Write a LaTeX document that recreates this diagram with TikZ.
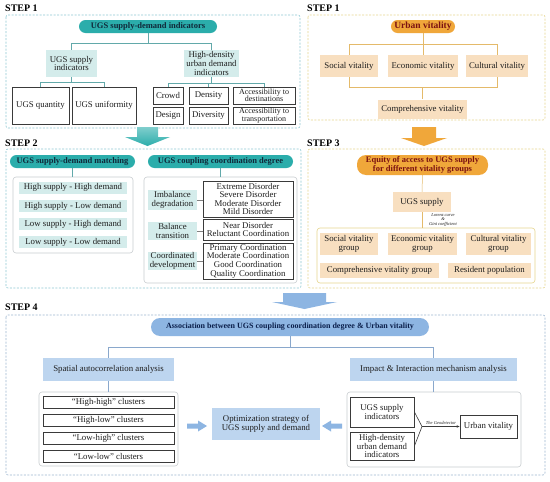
\documentclass[tikz,border=0pt]{standalone}
\usepackage{fontspec}
\setmainfont{Liberation Serif}
\usetikzlibrary{calc,arrows.meta}
\definecolor{tealP}{HTML}{2BADAB}
\definecolor{tealT}{HTML}{10293A}
\definecolor{tealL}{HTML}{D4ECEB}
\definecolor{tealF}{HTML}{8EC9D4}
\definecolor{tealN}{HTML}{62A9AA}
\definecolor{orP}{HTML}{F0A73A}
\definecolor{orT}{HTML}{7B1111}
\definecolor{peach}{HTML}{F8DFC0}
\definecolor{orF}{HTML}{E6D58E}
\definecolor{orN}{HTML}{E4BA6A}
\definecolor{blP}{HTML}{8DB5E2}
\definecolor{blT}{HTML}{0B1F4B}
\definecolor{blL}{HTML}{BDD5EF}
\definecolor{blF}{HTML}{9DB6D0}
\definecolor{blN}{HTML}{8AA8CC}
\definecolor{dk}{HTML}{3A3A3A}
\definecolor{txt}{HTML}{1E1E1E}
\definecolor{grpG}{HTML}{C9CDD0}
\begin{document}
\begin{tikzpicture}[x=1pt,y=-1pt,
  base/.style={inner sep=0pt, align=center, text=txt, font=\fontsize{8.8}{8.6}\selectfont},
  sz/.style 2 args={minimum width=#1, minimum height=#2},
  steplbl/.style={inner sep=0pt, anchor=west, font=\bfseries\fontsize{10}{12}\selectfont, text=black},
  tpill/.style={base, fill=tealP, rounded corners=6.5pt, text=tealT, font=\bfseries\fontsize{8.5}{8.5}\selectfont},
  tbox/.style={base, fill=tealL},
  opill/.style={base, fill=orP, rounded corners=7pt, text=orT, font=\bfseries\fontsize{8.5}{8.5}\selectfont},
  pbox/.style={base, fill=peach},
  bpill/.style={base, fill=blP, rounded corners=9pt, text=blT, font=\bfseries\fontsize{8}{8}\selectfont},
  bbox/.style={base, fill=blL},
  wbox/.style={base, fill=white, draw=dk, line width=0.8pt},
  grp/.style={draw=grpG, line width=0.6pt, rounded corners=3pt, fill=white},
  tframe/.style={draw=tealF, dash pattern=on 2pt off 1.5pt, line width=0.6pt, rounded corners=2pt},
  oframe/.style={draw=orF, dash pattern=on 2pt off 1.5pt, line width=0.6pt, rounded corners=2pt},
  bframe/.style={draw=blF, dash pattern=on 2pt off 1.5pt, line width=0.6pt, rounded corners=2pt},
  tline/.style={draw=tealN, line width=0.5pt},
  oline/.style={draw=orN, line width=0.5pt},
  bline/.style={draw=blN, line width=0.5pt},
  tiny/.style={inner sep=0pt, align=center, font=\itshape\fontsize{4.5}{4.5}\selectfont, text=txt}
]
\useasboundingbox (0,0) rectangle (550,482);
\fill[white] (0,0) rectangle (550,482);

% ---------------- STEP 1 left
\node[steplbl] (s1a) at (5,8) {STEP 1};
\draw[tframe] (6,15) rectangle (300,128);
\node[tpill, sz={138}{13}] (ind) at (148,26.5) {UGS supply-demand indicators};
\node[tbox, sz={51}{27}] (sup) at (71.5,63.5) {UGS supply\\indicators};
\node[tbox, sz={55}{27}] (dem) at (211.5,63.5) {High-density\\urban demand\\indicators};
\node[wbox, sz={57}{37}] (qty) at (40.5,105.5) {UGS quantity};
\node[wbox, sz={64}{37}] (uni) at (104,105.5) {UGS uniformity};
\node[wbox, sz={30}{17}] (crowd) at (168,95.5) {Crowd};
\node[wbox, sz={39}{17}] (dens) at (208.5,95.5) {Density};
\node[wbox, sz={62}{17}, font=\fontsize{8}{7.5}\selectfont] (acd) at (264,95.5) {Accessibility to\\destinations};
\node[wbox, sz={30}{17}] (design) at (168,115.5) {Design};
\node[wbox, sz={39}{17}] (divers) at (208.5,115.5) {Diversity};
\node[wbox, sz={62}{17}, font=\fontsize{8}{7.5}\selectfont] (act) at (264,115.5) {Accessibility to\\transportation};
\coordinate (j1) at (0,43);
\coordinate (j2) at (0,82);
\coordinate (j3) at (0,83);
\draw[tline] (ind.south) -- (ind.south |- j1);
\draw[tline] (sup.north) -- (sup.north |- j1) -- (dem.north |- j1) -- (dem.north);
\draw[tline] (sup.south) -- (sup.south |- j2);
\draw[tline] (qty.north) -- (qty.north |- j2) -- (uni.north |- j2) -- (uni.north);
\draw[tline] (dem.south) -- (dem.south |- j3);
\draw[tline] (crowd.north) -- (crowd.north |- j3) -- (acd.north |- j3) -- (acd.north);
\draw[tline] (dens.north) -- (dens.north |- j3);

% ---------------- STEP 1 right
\node[steplbl] (s1b) at (307,8) {STEP 1};
\draw[oframe] (308,15) rectangle (545,120);
\node[opill, sz={64}{13}, rounded corners=6.5pt, font=\bfseries\fontsize{9.5}{9.5}\selectfont] (uv) at (423,26.5) {Urban vitality};
\node[pbox, sz={58}{22}] (soc) at (349,66) {Social vitality};
\node[pbox, sz={70}{22}] (eco) at (423,66) {Economic vitality};
\node[pbox, sz={62}{22}] (cul) at (497,66) {Cultural vitality};
\node[pbox, sz={89}{19}] (comp) at (422.5,109) {Comprehensive vitality};
\coordinate (k1) at (0,44);
\coordinate (k2) at (0,87);
\draw[oline] (uv.south) -- (eco.north);
\draw[oline] (soc.north) -- (soc.north |- k1) -- (cul.north |- k1) -- (cul.north);
\draw[oline] (soc.south) -- (soc.south |- k2) -- (cul.south |- k2) -- (cul.south);
\draw[oline] (comp.north |- k2) -- (comp.north);

% ---------------- big arrows
\shade[top color=tealP!60, bottom color=tealP] (137,127) -- (158,127) -- (158,137) -- (170,137) -- (147.5,146) -- (125,137) -- (137,137) -- cycle;
\fill[orP] (412,127) -- (436,127) -- (436,138) -- (447,138) -- (424,146) -- (401,138) -- (412,138) -- cycle;
\fill[blP] (283,293) -- (326,293) -- (326,302) -- (337,302) -- (304.5,309) -- (272,302) -- (283,302) -- cycle;

% ---------------- STEP 2
\node[steplbl] (s2) at (5,143) {STEP 2};
\draw[tframe] (6,149) rectangle (301,288);
\node[tpill, sz={125}{13}] (match) at (72.5,161.5) {UGS supply-demand matching};
\node[tpill, sz={145}{13}] (ccd) at (220.5,161.5) {UGS coupling coordination degree};
\node[grp, sz={120}{76}] (mgrp) at (73,215) {};
\node[tbox, sz={108}{12}] (m1) at (73,187.5) {High supply - High demand};
\node[tbox, sz={108}{12}] (m2) at (73,206) {High supply - Low demand};
\node[tbox, sz={108}{12}] (m3) at (73,224) {Low supply - High demand};
\node[tbox, sz={108}{12}] (m4) at (73,242) {Low supply - Low demand};
\node[grp, sz={153}{106}] (cgrp) at (220.5,230) {};
\node[tbox, sz={49}{20}] (imb) at (172.5,200) {Imbalance\\degradation};
\node[wbox, sz={90}{36}] (dis1) at (248,199) {Extreme Disorder\\Severe Disorder\\Moderate Disorder\\Mild Disorder};
\node[tbox, sz={49}{18}] (bal) at (172.5,231) {Balance\\transition};
\node[wbox, sz={90}{21}] (dis2) at (248,229.5) {Near Disorder\\Reluctant Coordination};
\node[tbox, sz={49}{18}] (cod) at (172.5,261) {Coordinated\\development};
\node[wbox, sz={90}{36}] (dis3) at (248,261) {Primary Coordination\\Moderate Coordination\\Good Coordination\\Quality Coordination};
\draw[tline] (match.south) -- (match.south |- mgrp.north);
\draw[tline] (ccd.south) -- (ccd.south |- cgrp.north);
\draw[tline, draw=gray] (imb.east) -- (imb.east -| dis1.west);
\draw[tline, draw=gray] (bal.east) -- (bal.east -| dis2.west);
\draw[tline, draw=gray] (cod.east) -- (cod.east -| dis3.west);

% ---------------- STEP 3
\node[steplbl] (s3) at (307,143) {STEP 3};
\draw[oframe] (308,149) rectangle (545,288);
\node[opill, sz={131}{20}, rounded corners=9pt] (eq) at (422.5,165) {Equity of access to UGS supply\\for different vitality groups};
\node[pbox, sz={58}{20}] (us) at (422,202) {UGS supply};
\node[grp, draw=orF, sz={218}{55}] (ggrp) at (426,255.5) {};
\node[pbox, sz={58}{22}] (svg) at (349,244) {Social vitality\\group};
\node[pbox, sz={69}{22}] (evg) at (422.5,244) {Economic vitality\\group};
\node[pbox, sz={65}{22}] (cvg) at (498.5,244) {Cultural vitality\\group};
\node[pbox, sz={119}{15}] (cpg) at (379.5,270.5) {Comprehensive vitality group};
\node[pbox, sz={83}{15}] (rp) at (489.5,270.5) {Resident population};
\draw[oline] (eq.south) -- (us.north);
\draw[oline] (us.south) -- (us.south |- ggrp.north);
\node[tiny] (lor) at (443,220) {Lorenz curve\\\&\\Gini coefficient};

% ---------------- STEP 4
\node[steplbl] (s4) at (5,307) {STEP 4};
\draw[bframe] (6,315) rectangle (545,475);
\node[bpill, sz={278}{18}] (assoc) at (290,327) {Association between UGS coupling coordination degree \& Urban vitality};
\node[bbox, sz={131}{23}] (sa) at (108.5,369.5) {Spatial autocorrelation analysis};
\node[bbox, sz={167}{23}] (im) at (433.5,369.5) {Impact \& Interaction mechanism analysis};
\coordinate (q1) at (0,347);
\draw[bline] (assoc.south) -- (assoc.south |- q1);
\draw[bline] (sa.north) -- (sa.north |- q1) -- (im.north |- q1) -- (im.north);
\node[grp, sz={139}{74}] (cgrp4) at (108.5,429) {};
\node[wbox, sz={131}{12}] (c1) at (108.5,402) {“High-high” clusters};
\node[wbox, sz={131}{12}] (c2) at (108.5,420.5) {“High-low” clusters};
\node[wbox, sz={131}{12}] (c3) at (108.5,438) {“Low-high” clusters};
\node[wbox, sz={131}{12}] (c4) at (108.5,456) {“Low-low” clusters};
\node[bbox, sz={108}{32}] (opt) at (266,424) {Optimization strategy of\\UGS supply and demand};
\node[grp, sz={174}{75}] (rgrp) at (434,429.5) {};
\node[wbox, sz={64}{30}] (usi) at (382,412) {UGS supply\\indicators};
\node[wbox, sz={64}{28}] (hdi) at (382,446) {High-density\\urban demand\\indicators};
\node[wbox, sz={57}{23}] (uvb) at (488.5,426.5) {Urban vitality};
\draw[bline] (sa.south) -- (sa.south |- cgrp4.north);
\draw[bline] (im.south) -- (im.south |- rgrp.north);
\coordinate (conv) at (422,426.5);
\draw[line width=0.6pt, draw=dk] (usi.east) -- (conv) -- (hdi.east);
\draw[line width=0.5pt, draw=dk, -{Stealth[length=3pt,width=2.5pt]}] (conv) -- (uvb.west);
\node[tiny, anchor=south] (geo) at (441,425) {The Geodetector};
% block arrows
\fill[blP] (187,423.5) -- (198,423.5) -- (198,420.5) -- (207,426) -- (198,431.5) -- (198,428.5) -- (187,428.5) -- cycle;
\fill[blP] (342,423.5) -- (331,423.5) -- (331,420.5) -- (322,426) -- (331,431.5) -- (331,428.5) -- (342,428.5) -- cycle;
\end{tikzpicture}
\end{document}
